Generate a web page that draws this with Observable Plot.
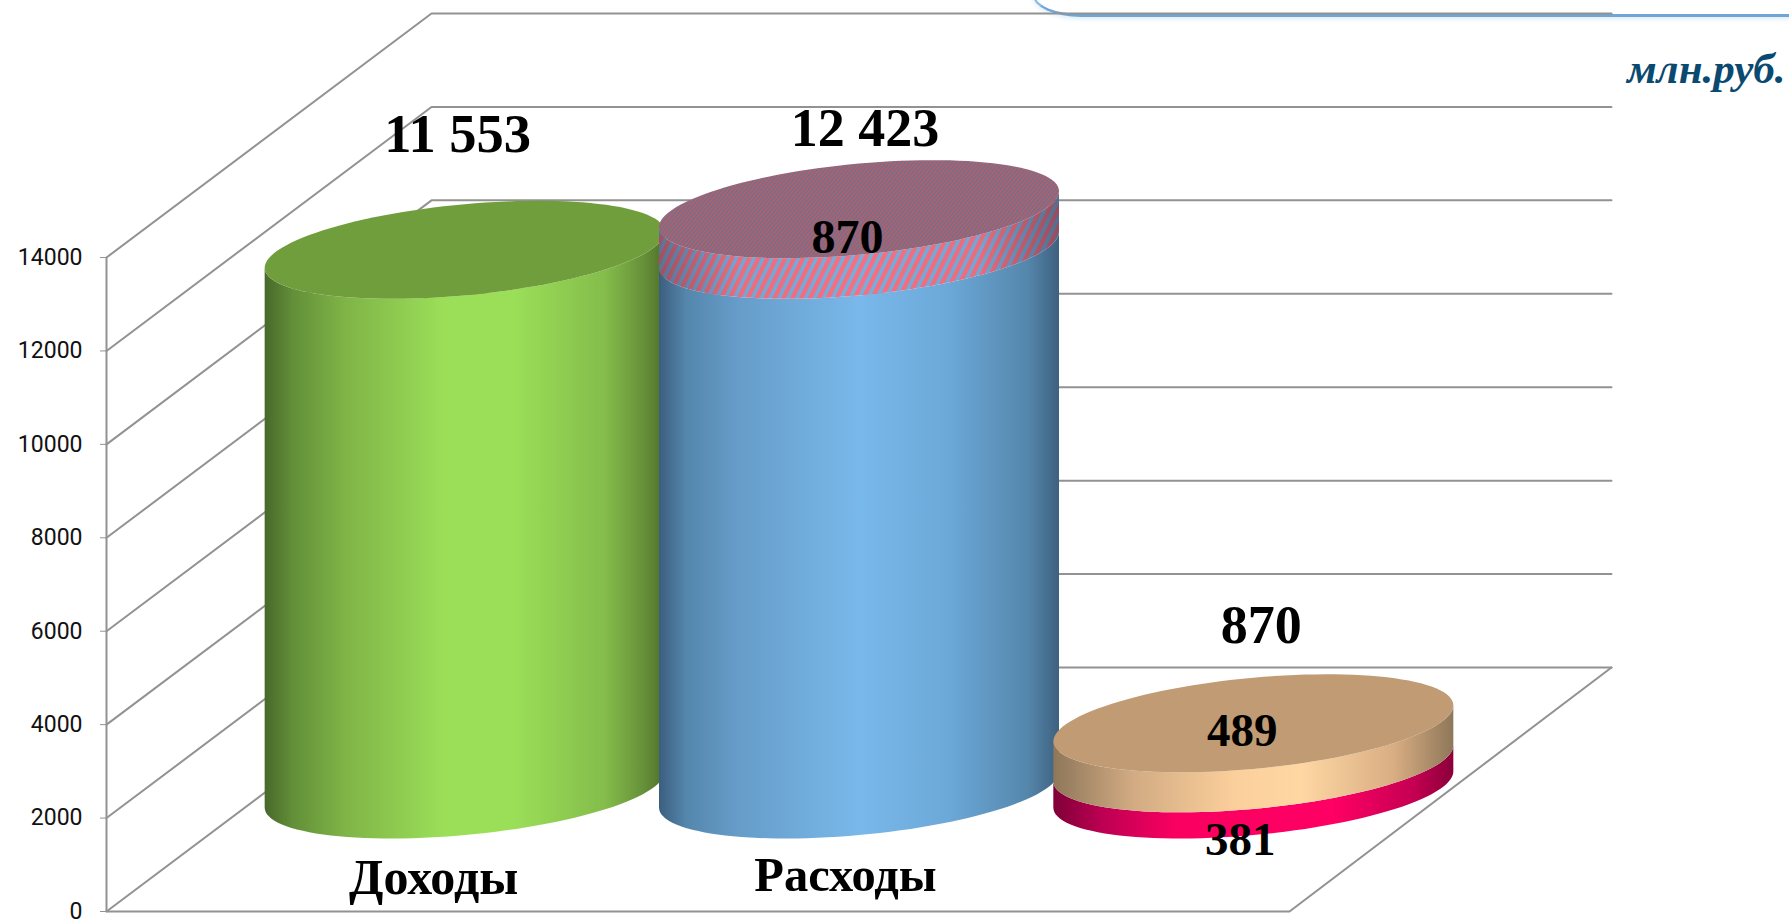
<!DOCTYPE html>
<html><head><meta charset="utf-8">
<script src="https://cdn.jsdelivr.net/npm/d3@7"></script>
<script src="https://cdn.jsdelivr.net/npm/@observablehq/plot@0.6"></script>
<style>
html,body{margin:0;padding:0;background:#fff;overflow:hidden;width:1789px;height:919px;}
#wrap{position:relative;width:1789px;height:919px;overflow:hidden;}
#wrap svg{position:absolute;left:0;top:0;display:block;}
#frame{position:absolute;left:1033px;top:-60px;width:800px;height:74px;border-left:2px solid #8bb9de;border-bottom:3px solid #6ea6d8;border-radius:0 0 0 48px / 0 0 0 22px;box-shadow:0 2px 4px rgba(120,180,230,.25);}
</style></head><body>
<div id="wrap"><div id="frame"></div></div>
<script>
// ---- data ----
const categories = ["Доходы", "Расходы", ""];
const lowerValues = [11553, 11553, 560];   // drawn height of the lower segment
const upperValues = [0, 870, 857];         // drawn height of the upper segment
const yTicks = [0, 2000, 4000, 6000, 8000, 10000, 12000, 14000];
const unitLabel = "млн.руб.";

// ---- oblique 3D projection in scale units ----
const pxPerCategory = 394.33, pxPerValue = 654 / 14000;
const depthX = 325 / pxPerCategory, depthV = 244 / pxPerValue;
const backEnd = 3 + 322 / pxPerCategory;
const radiusX = 200 / pxPerCategory, shearV = 18 / pxPerValue, radiusV = 45.6 / pxPerValue;
const cx = i => i + 0.5 + 322 / pxPerCategory / 2;
const cv = v => v + depthV / 2;
const angles = d3.range(0, 121).map(k => k * Math.PI / 60);
const rimPoint = (i, v, t) => ({
  x: cx(i) + radiusX * Math.cos(t),
  y: cv(v) + shearV * Math.cos(t) + radiusV * Math.sin(t)
});
const ellipse = (i, v) => angles.map(t => rimPoint(i, v, t));
// front half of the rim runs from the left extreme (t=PI) through the bottom to the right extreme
const frontRim = (i, v) => d3.range(0, 61).map(k => rimPoint(i, v, Math.PI + k * Math.PI / 60));
const side = (i, v0, v1) => [...frontRim(i, v1), ...frontRim(i, v0).reverse()];

const solid = (pts, fill) => Plot.line(pts, {x: "x", y: "y", fill, stroke: "none"});

const gridColor = "#929292", gridWidth = 2;
const backWall = yTicks.map(v => [{x: 0, y: v}, {x: depthX, y: v + depthV}, {x: backEnd, y: v + depthV}]);
const gridMarks = backWall.map(pts => Plot.line(pts, {x: "x", y: "y", stroke: gridColor, strokeWidth: gridWidth}));
const floorEdge = [{x: 0, y: 0}, {x: 3, y: 0}, {x: backEnd, y: depthV}];

const serif = "Liberation Serif";
const label = (text, i, v, dx, dy, fontSize) => Plot.text([text], {
  x: () => cx(i), y: () => cv(v), text: d => d, dx, dy, fontSize,
  fontFamily: serif, fontWeight: 700, fill: "#000", lineAnchor: "middle", textAnchor: "middle"
});
const total = i => lowerValues[i] + upperValues[i];

const chart = Plot.plot({
  width: 1789, height: 919,
  marginLeft: 106, marginRight: 0, marginTop: 0, marginBottom: 8,
  style: {background: "transparent"},
  x: {axis: null, domain: [0, (1789 - 106) / pxPerCategory]},
  y: {axis: null, domain: [0, 911 / pxPerValue]},
  marks: [
    ...gridMarks,
    Plot.line(floorEdge, {x: "x", y: "y", stroke: gridColor, strokeWidth: gridWidth}),
    Plot.ruleX([0], {y1: 0, y2: 14000, stroke: gridColor, strokeWidth: gridWidth}),
    Plot.axisY(yTicks, {
      anchor: "left", label: null, tickFormat: "d", tickSize: 6, tickPadding: 18,
      stroke: gridColor, fill: "#111", fontSize: 23, fontFamily: "Roboto", textStroke: "none"
    }),
    // Доходы
    solid(side(0, 0, lowerValues[0]), "url(#gGreen)"),
    solid(ellipse(0, lowerValues[0]), "#719e3c"),
    // Расходы
    solid(side(1, 0, lowerValues[1]), "url(#gBlue)"),
    solid(side(1, lowerValues[1], total(1)), "url(#hatchSide)"),
    solid(side(1, lowerValues[1], total(1)), "url(#gEdge)"),
    solid(ellipse(1, total(1)), "url(#hatchTop)"),
    // third column
    solid(side(2, 0, lowerValues[2]), "url(#gPink)"),
    solid(side(2, lowerValues[2], total(2)), "url(#gTan)"),
    solid(ellipse(2, total(2)), "#c09b73"),
    // labels
    label("11 553", 0, total(0), -7, -115, 54.5),
    label("12 423", 1, total(1), 6, -80, 54),
    label("870", 1, total(1), -11.5, 28, 48),
    label("870", 2, total(2), 8, -98, 54),
    label("489", 2, total(2), -11, 8, 47),
    label("381", 2, 0, -13, 50, 47),
    label(categories[0], 0, 0, -31, 88, 50),
    label(categories[1], 1, 0, -13.5, 86, 48.5),
    Plot.text([unitLabel], {
      frameAnchor: "top-right", text: d => d, dx: -4, dy: 69, fontSize: 43,
      fontFamily: serif, fontWeight: 700, fontStyle: "italic", fill: "#0b4a70",
      textAnchor: "end", lineAnchor: "middle"
    })
  ]
});

const stops = (id, list) => `<linearGradient id="${id}" x1="0" x2="1" y1="0" y2="0">` +
  list.map(([o, c, a]) => `<stop offset="${o}" stop-color="${c}"${a !== undefined ? ` stop-opacity="${a}"` : ""}/>`).join("") +
  `</linearGradient>`;
d3.select(chart).insert("defs", ":first-child").html(
  stops("gGreen", [[0, "#48682a"], [0.07, "#628f38"], [0.2, "#7fb447"], [0.45, "#9bdf58"], [0.62, "#9bdf58"], [0.85, "#84bd4b"], [0.95, "#668f39"], [1, "#4f7028"]]) +
  stops("gBlue", [[0, "#3c5e7e"], [0.07, "#5587ad"], [0.2, "#669dc9"], [0.5, "#79b8ea"], [0.72, "#6ca9d9"], [0.92, "#5587ac"], [1, "#3e6180"]]) +
  stops("gTan", [[0, "#8e7759"], [0.2, "#d2ab83"], [0.45, "#fbcf9b"], [0.62, "#fed7a3"], [0.85, "#d9ae83"], [1, "#8e7759"]]) +
  stops("gPink", [[0, "#7f0037"], [0.12, "#bb0052"], [0.3, "#f90060"], [0.7, "#ff0064"], [0.9, "#c50052"], [1, "#8a0039"]]) +
  stops("gEdge", [[0, "#223", 0.4], [0.2, "#223", 0.05], [0.5, "#223", 0], [0.8, "#223", 0.05], [1, "#223", 0.45]]) +
  `<pattern id="hatchSide" width="8" height="8" patternUnits="userSpaceOnUse" patternTransform="rotate(26)">
     <rect width="8" height="8" fill="#76aede"/><rect width="4.4" height="8" fill="#f66f80"/></pattern>
   <pattern id="hatchTop" width="3" height="3" patternUnits="userSpaceOnUse" patternTransform="rotate(40)">
     <rect width="3" height="3" fill="#64738f"/><rect width="1.7" height="3" fill="#b85e6c"/></pattern>`
);
document.getElementById("wrap").appendChild(chart);
</script>
</body></html>
